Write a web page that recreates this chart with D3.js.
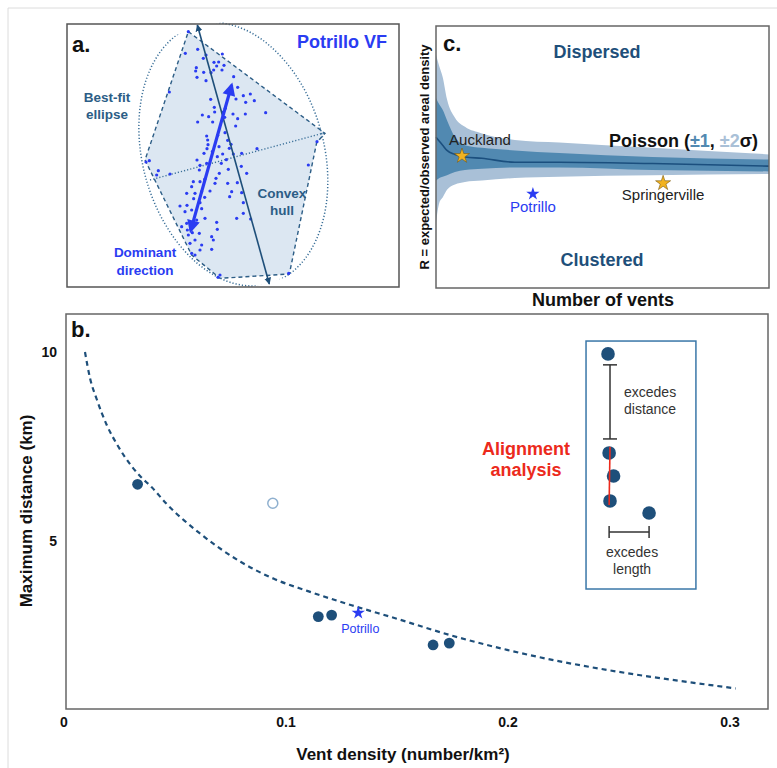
<!DOCTYPE html>
<html><head><meta charset="utf-8">
<script src="https://cdn.jsdelivr.net/npm/d3@7"></script>
<style>
body{margin:0;background:#fff;}
text{font-family:"Liberation Sans",Arial,Helvetica,sans-serif;}
</style>
</head><body>
<svg id="chart" width="777" height="768"></svg>
<script>
// ---------------- Panel a: Potrillo VF map (map units) ----------------
const ventX = [385,376,413,438,430,487,462,476,492,470,461,486,409,407,431,453,411,438,328,521,533,550,528,571,583,557,452,463,464,446,427,413,458,489,494,496,519,533,556,527,617,495,473,440,443,444,441,477,503,513,508,520,488,591,484,499,544,411,420,440,418,400,420,395,434,465,468,330,295,258,268,290,450,515,503,532,380,405,425,434,401,360,381,420,425,395,375,509,545,550,572,550,530,410,435,380,365,470,472,382,385,405,425,420,455,460,455,395,405,480,474,686,745,771,397,418,390,478,560,432,457,472,545,505];
const ventY = [95,160,148,165,175,162,187,186,196,198,210,210,203,213,217,218,232,242,276,230,262,287,297,282,302,307,298,322,336,350,345,366,366,337,352,325,342,356,342,378,338,398,406,408,420,434,446,440,421,433,445,462,462,446,490,479,499,480,496,490,510,545,545,560,538,550,535,522,512,486,482,525,573,575,550,548,580,580,575,592,596,618,616,608,626,630,635,590,578,608,657,640,655,660,655,670,680,667,688,690,705,720,735,750,710,720,748,760,765,825,832,820,495,425,698,700,730,520,520,460,455,470,460,508];
const hullX = [385,795,770,688,480,395,255];
const hullY = [95,400,428,822,835,765,480];
const majorAxisX = [412,628], majorAxisY = [75,852];
const minorAxisX = [270,795], minorAxisY = [540,398];
const dominantX = [515,392], dominantY = [255,692];
const ellipseCenter = [520,463], ellipseSemiMajor = 403, ellipseSemiMinor = 272;

// ---------------- Panel b: density vs distance ----------------
const curveDensity  = [0.0099,0.0122,0.0152,0.0197,0.0249,0.0309,0.0347,0.040,0.0467,0.0617,0.08,0.095,0.11,0.13,0.15,0.175,0.2,0.303];
const curveDistance = [10.0,9.3,8.75,8.07,7.5,6.98,6.72,6.42,5.98,5.2,4.45,4.0,3.68,3.3,2.95,2.5,2.12,1.1];
const fieldDensity  = [0.0336,0.115,0.121,0.1667,0.174];
const fieldDistance = [6.5,3.0,3.04,2.25,2.3];
const openDensity = [0.0945], openDistance = [6.0];
const potrilloB = {density:0.133, distance:3.1};
const xTicksB = [0,0.1,0.2,0.3], xTickLabelsB = ["0","0.1","0.2","0.3"];
const yTicksB = [5,10], yTickLabelsB = ["5","10"];
// inset (schematic, drawn in panel b units)
const insetBoxDensity = [0.2356,0.2851], insetBoxDistance = [3.73,10.29];
const insetDensity  = [0.2455,0.246,0.248,0.2464,0.264];
const insetDistance = [9.95,7.33,6.72,6.06,5.74];
const distBarDensity = 0.2464, distBarRange = [7.70,9.66];
const redLineDensity = [0.2464,0.246], redLineDistance = [7.49,5.95];
const lenBarDistance = 5.24, lenBarRange = [0.246,0.264];

// ---------------- Panel c: Poisson envelope ----------------
const nVents   = [0,1,2,3.3,5.7,8.7,13.8,23.7,37,65,100];
const sd2Upper = [1.78,1.69,1.61,1.44,1.30,1.23,1.18,1.13,1.11,1.07,1.02];
const sd1Upper = [1.45,1.40,1.36,1.28,1.15,1.09,1.07,1.05,1.03,1.00,0.98];
const meanR    = [1.15,1.12,1.09,1.05,1.02,1.00,0.99,0.96,0.96,0.95,0.93];
const sd1Lower = [0.82,0.84,0.85,0.86,0.885,0.90,0.91,0.92,0.92,0.90,0.89];
const sd2Lower = [0.50,0.65,0.69,0.75,0.79,0.81,0.82,0.84,0.85,0.86,0.87];
const fieldNames = ["Auckland","Springerville","Potrillo"];
const fieldVents = [7.8,68.2,29.1];
const fieldR     = [1.008,0.80,0.718];

// ================= drawing =================
const svg = d3.select("#chart");
const DARK = "#1e4f7a", BRIGHT = "#2a3cf2", TEAL = "#2c5d86", RED = "#ec2a1c";

// outer faint frame
svg.append("path").attr("d","M8,768 V8 H777").attr("fill","none").attr("stroke","#dcdcdc").attr("stroke-width",1);

// ---------- Panel a ----------
const ax = d3.scaleLinear().domain([21,1017]).range([67,399]);
const ay = d3.scaleLinear().domain([72,861]).range([24,287]);
const gA = svg.append("g");
const defs = svg.append("defs");
defs.append("clipPath").attr("id","clipA").append("rect").attr("x",67).attr("y",24).attr("width",332).attr("height",263);
defs.append("marker").attr("id","arrSmall").attr("viewBox","0 0 10 10").attr("refX",9).attr("refY",5)
  .attr("markerWidth",7).attr("markerHeight",7).attr("markerUnits","userSpaceOnUse").attr("orient","auto-start-reverse")
  .append("path").attr("d","M0,0 L10,5 L0,10 Z").attr("fill",DARK);
defs.append("marker").attr("id","arrBig").attr("viewBox","0 0 10 10").attr("refX",8).attr("refY",5)
  .attr("markerWidth",15).attr("markerHeight",13).attr("markerUnits","userSpaceOnUse").attr("orient","auto-start-reverse")
  .append("path").attr("d","M0,0 L10,5 L0,10 Z").attr("fill",BRIGHT);

const hullPts = hullX.map((x,i)=>[ax(x),ay(hullY[i])]);
gA.append("path").attr("d", d3.line()(hullPts)+"Z")
  .attr("fill","#dce7f2").attr("stroke",TEAL).attr("stroke-width",1.4).attr("stroke-dasharray","4,3");
const k = ax(1)-ax(0);
const angle = Math.atan2(majorAxisY[1]-majorAxisY[0], majorAxisX[1]-majorAxisX[0])*180/Math.PI - 90;
gA.append("ellipse").attr("clip-path","url(#clipA)")
  .attr("cx",ax(ellipseCenter[0])).attr("cy",ay(ellipseCenter[1]))
  .attr("rx",ellipseSemiMinor*k).attr("ry",ellipseSemiMajor*k)
  .attr("transform",`rotate(${angle},${ax(ellipseCenter[0])},${ay(ellipseCenter[1])})`)
  .attr("fill","none").attr("stroke","#3b7099").attr("stroke-width",1.5).attr("stroke-dasharray","1.2,2");
gA.append("line").attr("x1",ax(minorAxisX[0])).attr("y1",ay(minorAxisY[0])).attr("x2",ax(minorAxisX[1])).attr("y2",ay(minorAxisY[1]))
  .attr("stroke","#3b7099").attr("stroke-width",1.4).attr("stroke-dasharray","1.2,2");
gA.selectAll("circle.vent").data(ventX).join("circle").attr("class","vent")
  .attr("cx",(d)=>ax(d)).attr("cy",(d,i)=>ay(ventY[i])).attr("r",1.6).attr("fill",BRIGHT);
gA.append("line").attr("x1",ax(majorAxisX[0])).attr("y1",ay(majorAxisY[0])).attr("x2",ax(majorAxisX[1])).attr("y2",ay(majorAxisY[1]))
  .attr("stroke",DARK).attr("stroke-width",1.6).attr("marker-start","url(#arrSmall)").attr("marker-end","url(#arrSmall)");
gA.append("line").attr("x1",ax(dominantX[0])).attr("y1",ay(dominantY[0])).attr("x2",ax(dominantX[1])).attr("y2",ay(dominantY[1]))
  .attr("stroke",BRIGHT).attr("stroke-width",3.2).attr("marker-start","url(#arrBig)").attr("marker-end","url(#arrBig)");
gA.append("rect").attr("x",67).attr("y",24).attr("width",332).attr("height",263).attr("fill","none").attr("stroke","#555").attr("stroke-width",1.5);
gA.append("text").attr("x",72).attr("y",52).text("a.").attr("font-size",22).attr("font-weight","bold").attr("fill","#111");
gA.append("text").attr("x",387).attr("y",48).attr("text-anchor","end").text("Potrillo VF").attr("font-size",18).attr("font-weight","bold").attr("fill",BRIGHT);
function lines(g,x,y,arr,size,color,dy){arr.forEach((t,i)=>g.append("text").attr("x",x).attr("y",y+i*dy).attr("text-anchor","middle").text(t).attr("font-size",size).attr("font-weight","bold").attr("fill",color));}
lines(gA,107,102,["Best-fit","ellipse"],13.5,TEAL,17);
lines(gA,282,198,["Convex","hull"],13.5,TEAL,17);
lines(gA,145,257,["Dominant","direction"],13.5,BRIGHT,18);

// ---------- Panel b ----------
const bx = d3.scaleLinear().domain([0,0.3]).range([63,729]);
const by = d3.scaleLinear().domain([0,10]).range([730,352]);
const gB = svg.append("g");
gB.append("rect").attr("x",66).attr("y",314).attr("width",702).attr("height",395).attr("fill","none").attr("stroke","#666").attr("stroke-width",1.5);
gB.append("path").datum(curveDensity.map((d,i)=>[d,curveDistance[i]]))
  .attr("d",d3.line().x(d=>bx(d[0])).y(d=>by(d[1])).curve(d3.curveMonotoneX))
  .attr("fill","none").attr("stroke",DARK).attr("stroke-width",2.2).attr("stroke-dasharray","5,4");
gB.selectAll("circle.field").data(fieldDensity).join("circle").attr("class","field")
  .attr("cx",d=>bx(d)).attr("cy",(d,i)=>by(fieldDistance[i])).attr("r",5.4).attr("fill",DARK);
gB.selectAll("circle.open").data(openDensity).join("circle").attr("class","open")
  .attr("cx",d=>bx(d)).attr("cy",(d,i)=>by(openDistance[i])).attr("r",5).attr("fill","#fff").attr("stroke","#8fb0cf").attr("stroke-width",1.5);
gB.append("path").attr("d",d3.symbol(d3.symbolStar,55)()).attr("transform",`translate(${bx(potrilloB.density)},${by(potrilloB.distance)})`).attr("fill",BRIGHT);
gB.append("text").attr("x",bx(potrilloB.density)+2).attr("y",by(potrilloB.distance)+20).attr("text-anchor","middle").text("Potrillo").attr("font-size",12.5).attr("fill",BRIGHT);
// ticks
gB.selectAll("text.xt").data(xTicksB).join("text").attr("class","xt").attr("x",d=>bx(d)+1).attr("y",727)
  .attr("text-anchor","middle").text((d,i)=>xTickLabelsB[i]).attr("font-size",14).attr("font-weight","bold").attr("fill","#111");
gB.selectAll("text.yt").data(yTicksB).join("text").attr("class","yt").attr("x",57).attr("y",d=>by(d)+5)
  .attr("text-anchor","end").text((d,i)=>yTickLabelsB[i]).attr("font-size",14).attr("font-weight","bold").attr("fill","#111");
gB.append("text").attr("transform","translate(32,511) rotate(-90)").attr("text-anchor","middle").text("Maximum distance (km)")
  .attr("font-size",17).attr("font-weight","bold").attr("fill","#111");
gB.append("text").attr("x",403).attr("y",760).attr("text-anchor","middle").text("Vent density (number/km²)")
  .attr("font-size",17).attr("font-weight","bold").attr("fill","#111");
gB.append("text").attr("x",71).attr("y",337).text("b.").attr("font-size",22).attr("font-weight","bold").attr("fill","#111");
// alignment inset
lines(gB,526,455,["Alignment","analysis"],18,RED,21);
gB.append("rect").attr("x",bx(insetBoxDensity[0])).attr("y",by(insetBoxDistance[1]))
  .attr("width",bx(insetBoxDensity[1])-bx(insetBoxDensity[0])).attr("height",by(insetBoxDistance[0])-by(insetBoxDistance[1]))
  .attr("fill","none").attr("stroke","#3a77a8").attr("stroke-width",1.5);
const bar = gB.append("g").attr("stroke","#333").attr("stroke-width",1.5);
bar.append("line").attr("x1",bx(distBarDensity)).attr("x2",bx(distBarDensity)).attr("y1",by(distBarRange[0])).attr("y2",by(distBarRange[1]));
distBarRange.forEach(v=>bar.append("line").attr("x1",bx(distBarDensity)-7).attr("x2",bx(distBarDensity)+7).attr("y1",by(v)).attr("y2",by(v)));
bar.append("line").attr("x1",bx(lenBarRange[0])).attr("x2",bx(lenBarRange[1])).attr("y1",by(lenBarDistance)).attr("y2",by(lenBarDistance));
lenBarRange.forEach(v=>bar.append("line").attr("x1",bx(v)).attr("x2",bx(v)).attr("y1",by(lenBarDistance)-6).attr("y2",by(lenBarDistance)+6));
gB.selectAll("circle.inset").data(insetDensity).join("circle").attr("class","inset")
  .attr("cx",d=>bx(d)).attr("cy",(d,i)=>by(insetDistance[i])).attr("r",6.8).attr("fill",DARK);
gB.append("line").attr("x1",bx(redLineDensity[0])).attr("x2",bx(redLineDensity[1])).attr("y1",by(redLineDistance[0])).attr("y2",by(redLineDistance[1]))
  .attr("stroke",RED).attr("stroke-width",1.6);
["excedes","distance"].forEach((t,i)=>gB.append("text").attr("x",bx(distBarDensity)+14).attr("y",by(distBarRange[1])+32+i*17).text(t).attr("font-size",14).attr("fill","#333"));
["excedes","length"].forEach((t,i)=>gB.append("text").attr("x",(bx(lenBarRange[0])+bx(lenBarRange[1]))/2+3).attr("y",by(lenBarDistance)+25+i*17).attr("text-anchor","middle").text(t).attr("font-size",14).attr("fill","#333"));

// ---------- Panel c ----------
const cx = d3.scaleLinear().domain([0,100]).range([436,769]);
const cy = d3.scaleLinear().domain([0,2]).range([288,26]);
const gC = svg.append("g");
defs.append("clipPath").attr("id","clipC").append("rect").attr("x",436).attr("y",26).attr("width",333).attr("height",262);
const band = (lo,hi)=>d3.area().x((d,i)=>cx(nVents[i])).y0((d,i)=>cy(lo[i])).y1((d,i)=>cy(hi[i])).curve(d3.curveMonotoneX)(nVents);
gC.append("path").attr("d",band(sd2Lower,sd2Upper)).attr("fill","#a9c0d7").attr("clip-path","url(#clipC)");
gC.append("path").attr("d",band(sd1Lower,sd1Upper)).attr("fill","#5189b1").attr("clip-path","url(#clipC)");
gC.append("path").attr("d",d3.line().x((d,i)=>cx(nVents[i])).y((d,i)=>cy(meanR[i])).curve(d3.curveMonotoneX)(nVents))
  .attr("fill","none").attr("stroke","#1b4f7e").attr("stroke-width",1.6);
gC.append("rect").attr("x",436).attr("y",26).attr("width",333).attr("height",262).attr("fill","none").attr("stroke","#666").attr("stroke-width",1.5);
const starColors = ["#f2b320","#f2b320",BRIGHT];
fieldNames.forEach((n,i)=>{
  const p = gC.append("path").attr("d",d3.symbol(d3.symbolStar,i==2?55:70)()).attr("transform",`translate(${cx(fieldVents[i])},${cy(fieldR[i])})`).attr("fill",starColors[i]);
  if(i<2) p.attr("stroke","#7a5a10").attr("stroke-width",0.6);
});
gC.append("text").attr("x",cx(fieldVents[0])+18).attr("y",cy(fieldR[0])-11).attr("text-anchor","middle").text(fieldNames[0]).attr("font-size",15).attr("fill","#222");
gC.append("text").attr("x",cx(fieldVents[1])).attr("y",cy(fieldR[1])+17).attr("text-anchor","middle").text(fieldNames[1]).attr("font-size",15).attr("fill","#222");
gC.append("text").attr("x",cx(fieldVents[2])).attr("y",cy(fieldR[2])+18).attr("text-anchor","middle").text(fieldNames[2]).attr("font-size",15).attr("fill",BRIGHT);
const pt = gC.append("text").attr("x",758).attr("y",147).attr("text-anchor","end").attr("font-size",18).attr("font-weight","bold").attr("fill","#111");
pt.append("tspan").text("Poisson (");
pt.append("tspan").text("±1").attr("fill","#5189b1");
pt.append("tspan").text(", ");
pt.append("tspan").text("±2").attr("fill","#a9c0d7");
pt.append("tspan").text("σ)");
gC.append("text").attr("x",443).attr("y",51).text("c.").attr("font-size",22).attr("font-weight","bold").attr("fill","#111");
gC.append("text").attr("x",597).attr("y",58).attr("text-anchor","middle").text("Dispersed").attr("font-size",18).attr("font-weight","bold").attr("fill",DARK);
gC.append("text").attr("x",602).attr("y",266).attr("text-anchor","middle").text("Clustered").attr("font-size",18).attr("font-weight","bold").attr("fill",DARK);
gC.append("text").attr("x",603).attr("y",306).attr("text-anchor","middle").text("Number of vents").attr("font-size",18).attr("font-weight","bold").attr("fill","#111");
gC.append("text").attr("transform","translate(429,157) rotate(-90)").attr("text-anchor","middle").text("R = expected/observed areal density")
  .attr("font-size",13).attr("font-weight","bold").attr("fill","#111");
</script>
</body></html>
